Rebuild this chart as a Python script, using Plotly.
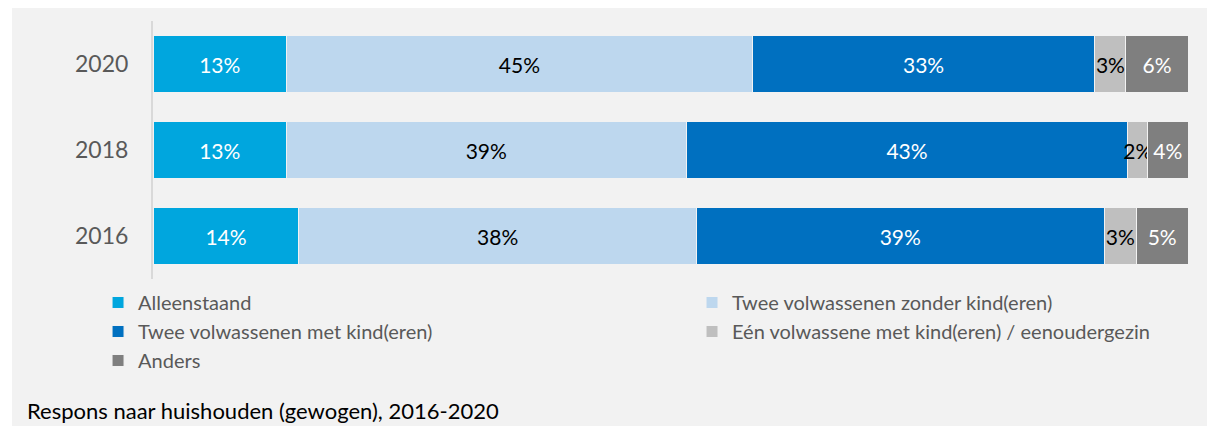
import plotly.graph_objects as go

# data
years = ["2020", "2018", "2016"]
alleenstaand = [12.9, 12.9, 14.1]
twee_zonder = [45.0, 38.6, 38.4]
twee_met = [33.1, 42.7, 39.4]
een_volw = [3.0, 1.9, 3.1]
anders = [6.0, 3.9, 5.0]

# name, values, colour, label colour, legend column
series = [
    ("Alleenstaand", alleenstaand, "#00A6DE", "white", "legend"),
    ("Twee volwassenen zonder kind(eren)", twee_zonder, "#BDD7EE", "black", "legend2"),
    ("Twee volwassenen met kind(eren)", twee_met, "#0070C0", "white", "legend"),
    ("Eén volwassene met kind(eren) / eenoudergezin", een_volw, "#BFBFBF", "black", "legend2"),
    ("Anders", anders, "#7F7F7F", "white", "legend"),
]

fig = go.Figure()
for name, vals, color, txtcolor, leg in series:
    fig.add_trace(
        go.Bar(
            y=years,
            x=vals,
            name=name,
            legend=leg,
            legendgroup=name,
            orientation="h",
            marker=dict(color=color, line=dict(color="#f2f2f2", width=1)),
            texttemplate="%{x:.0f}%",
            textposition="inside",
            insidetextanchor="middle",
            textangle=0,
            constraintext="none",
            textfont=dict(color=txtcolor, size=21, family="Lato"),
            hoverinfo="skip",
        )
    )

# grey background panel
fig.add_shape(
    type="rect", xref="paper", yref="paper",
    x0=-0.1362, x1=1.03, y0=-0.62, y1=1.06,
    fillcolor="#f2f2f2", line=dict(width=0), layer="below",
)

fig.add_annotation(
    text="Respons naar huishouden (gewogen), 2016-2020",
    xref="paper", yref="paper", x=-0.1237, y=-0.5116,
    xanchor="left", yanchor="middle", showarrow=False,
    font=dict(size=22, color="black", family="Lato"),
)

legfont = dict(size=20, color="#595959", family="Lato")

fig.update_layout(
    width=1207, height=418,
    margin=dict(l=145, r=27, t=13, b=147, autoexpand=False),
    barmode="stack",
    bargap=0.326,
    paper_bgcolor="white",
    plot_bgcolor="rgba(0,0,0,0)",
    font=dict(family="Lato", color="#595959"),
    uniformtext=dict(minsize=21, mode="show"),
    showlegend=True,
    legend=dict(
        x=-0.0531, xanchor="left", y=-0.0155, yanchor="top",
        font=legfont, bgcolor="rgba(0,0,0,0)",
        traceorder="grouped", tracegroupgap=0,
    ),
    legend2=dict(
        x=0.5208, xanchor="left", y=-0.0155, yanchor="top",
        font=legfont, bgcolor="rgba(0,0,0,0)",
        traceorder="grouped", tracegroupgap=0,
    ),
    xaxis=dict(range=[0, 100], visible=False, fixedrange=True),
    yaxis=dict(
        autorange="reversed",
        showline=True, linecolor="#d9d9d9", linewidth=2,
        showgrid=False, zeroline=False,
        ticks="", ticklabelstandoff=18,
        tickfont=dict(size=23, color="#595959", family="Lato"),
    ),
)

fig.write_html("out.html")
